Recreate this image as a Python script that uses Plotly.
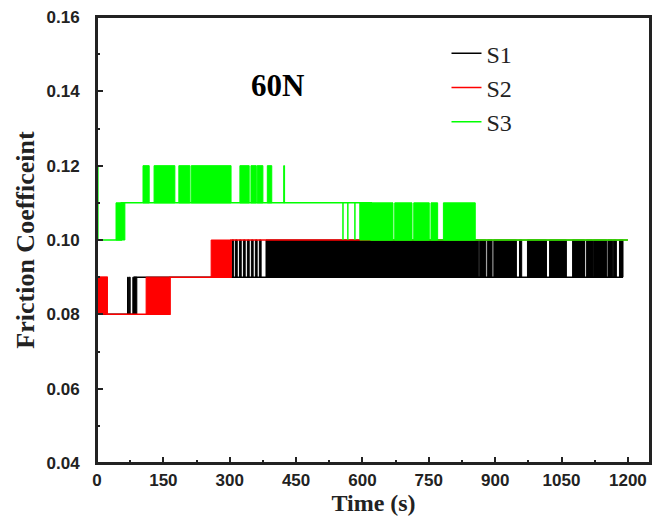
import plotly.graph_objects as go

# ---------------- data ----------------
x_tick_vals = [0, 150, 300, 450, 600, 750, 900, 1050, 1200]
y_tick_vals = [0.04, 0.06, 0.08, 0.10, 0.12, 0.14, 0.16]
y_tick_text = ["0.04", "0.06", "0.08", "0.10", "0.12", "0.14", "0.16"]

# resting (step) levels of each series: time (s) and friction coefficient
s1_step_t = [0, 85, 1189]
s1_step_v = [0.08, 0.09, 0.09]
s2_step_t = [0, 23, 111, 165, 258, 303, 1200]
s2_step_v = [0.09, 0.08, 0.08, 0.09, 0.09, 0.10, 0.10]
s3_step_t = [0, 2, 55, 620, 1200]
s3_step_v = [0.12, 0.10, 0.11, 0.10, 0.10]

# intervals where the signal flickers densely between two levels
s1_band_start = [69, 73, 81, 305, 313, 322, 331, 340, 349, 358, 367, 382, 865, 883, 897, 955,
                 973, 1023, 1075, 1106, 1122, 1155, 1167, 1181]
s1_band_end = [71, 75, 90, 309, 317, 326, 335, 344, 353, 362, 371, 862, 879, 893, 948, 960,
               1016, 1061, 1102, 1120, 1152, 1165, 1174, 1189]
s1_band_low = [0.08, 0.08, 0.08] + [0.09] * 21
s1_band_high = [0.09, 0.09, 0.09] + [0.10] * 21

s2_band_start = [0, 111, 258]
s2_band_end = [23, 165, 303]
s2_band_low = [0.08, 0.08, 0.09]
s2_band_high = [0.09, 0.09, 0.10]

s3_band_start = [43, 104, 129, 185, 213, 323, 348, 362, 385, 422, 556, 567, 583, 594, 673, 716, 755, 783]
s3_band_end = [63, 118, 176, 210, 303, 344, 360, 375, 395, 424, 557, 568, 584, 669, 712, 751, 770, 855]
s3_band_low = [0.10, 0.11, 0.11, 0.11, 0.11, 0.11, 0.11, 0.11, 0.11, 0.11,
               0.10, 0.10, 0.10, 0.10, 0.10, 0.10, 0.10, 0.10]
s3_band_high = [0.11, 0.12, 0.12, 0.12, 0.12, 0.12, 0.12, 0.12, 0.12, 0.12,
                0.11, 0.11, 0.11, 0.11, 0.11, 0.11, 0.11, 0.11]

series = [
    ("S1", "#000000", s1_step_t, s1_step_v, s1_band_start, s1_band_end, s1_band_low, s1_band_high),
    ("S2", "#ff0000", s2_step_t, s2_step_v, s2_band_start, s2_band_end, s2_band_low, s2_band_high),
    ("S3", "#00ff00", s3_step_t, s3_step_v, s3_band_start, s3_band_end, s3_band_low, s3_band_high),
]


def band_xy(starts, ends, lows, highs):
    xs, ys = [], []
    for a, b, lo, hi in zip(starts, ends, lows, highs):
        xs += [a, a, b, b, a, None]
        ys += [lo, hi, hi, lo, lo, None]
    return xs, ys


fig = go.Figure()
for name, color, st, sv, bs, be, bl, bh in series:
    bx, by = band_xy(bs, be, bl, bh)
    fig.add_trace(go.Scatter(x=bx, y=by, mode="lines", fill="toself", fillcolor=color,
                             line=dict(color=color, width=1), legendgroup=name,
                             showlegend=False, hoverinfo="skip"))
    fig.add_trace(go.Scatter(x=st, y=sv, mode="lines", line=dict(color=color, width=1.5, shape="hv"),
                             name=name, legendgroup=name))

fig.add_annotation(x=409, y=0.1415, xref="x", yref="y", text="<b>60N</b>", showarrow=False,
                   font=dict(family="Liberation Serif", size=31, color="#000000"))

# plot frame
fig.add_shape(type="rect", xref="paper", yref="paper", x0=0, x1=1, y0=0, y1=1,
              line=dict(color="#222222", width=2), layer="above")

axis_common = dict(showgrid=False, zeroline=False, showline=True, linecolor="#222222", linewidth=2,
                   mirror=True, ticks="inside", ticklen=6, tickwidth=1.5, tickcolor="#222222",
                   automargin=False, ticklabeloverflow="allow",
                   tickfont=dict(family="Liberation Sans", size=17, color="#222222", weight="bold"))

fig.update_xaxes(range=[0, 1250], tickvals=x_tick_vals, ticklabelstandoff=1,
                 minor=dict(ticks="inside", dtick=75, tick0=0, ticklen=3, tickwidth=1.5, tickcolor="#222222"),
                 title=dict(text="<b>Time (s)</b>", standoff=0,
                            font=dict(family="Liberation Serif", size=24, color="#222222")),
                 **axis_common)
fig.update_yaxes(range=[0.04, 0.16], tickvals=y_tick_vals, ticktext=y_tick_text, ticklabelstandoff=12,
                 minor=dict(ticks="inside", dtick=0.01, tick0=0.04, ticklen=3, tickwidth=1.5, tickcolor="#222222"),
                 title=dict(text="<b>Friction Coefficeint</b>", standoff=4,
                            font=dict(family="Liberation Serif", size=26, color="#222222")),
                 **axis_common)

fig.update_layout(
    width=656, height=512,
    margin=dict(l=89, r=14, t=9, b=57, pad=0),
    plot_bgcolor="#ffffff", paper_bgcolor="#ffffff",
    showlegend=True,
    legend=dict(x=0.632, y=0.968, xanchor="left", yanchor="top", bgcolor="rgba(0,0,0,0)",
                font=dict(family="Liberation Serif", size=24, color="#222222"),
                tracegroupgap=0),
)

fig.write_html("out.html", config={"displayModeBar": False})
